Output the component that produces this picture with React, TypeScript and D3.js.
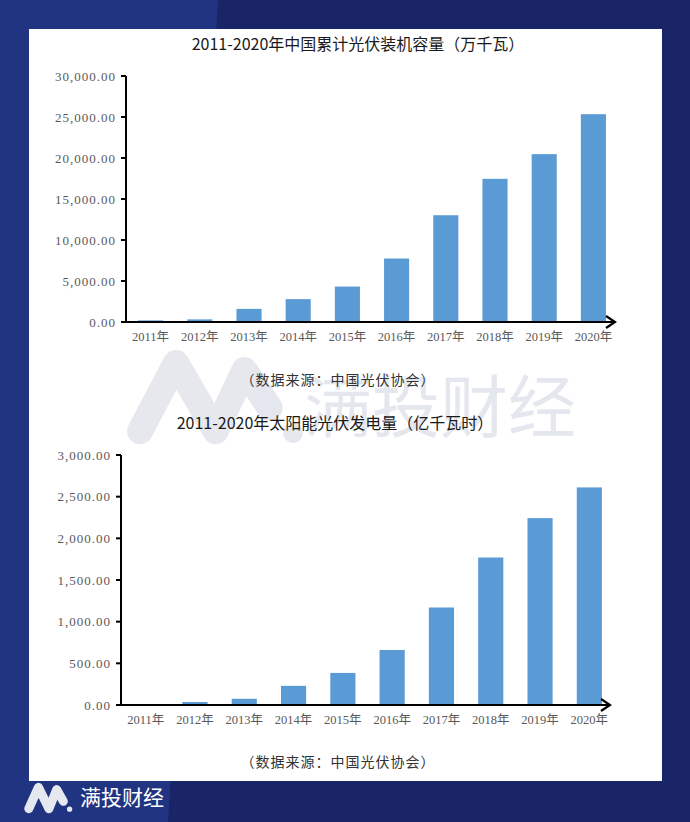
import React from "react";
import * as d3 from "d3";

const years = ["2011年", "2012年", "2013年", "2014年", "2015年", "2016年", "2017年", "2018年", "2019年", "2020年"];
const capacity = [200, 320, 1600, 2790, 4320, 7740, 13020, 17460, 20470, 25340];
const generation = [6, 36, 75, 230, 385, 660, 1170, 1770, 2243, 2611];
const capacityTicks = [0, 5000, 10000, 15000, 20000, 25000, 30000];
const generationTicks = [0, 500, 1000, 1500, 2000, 2500, 3000];
const title1 = "2011-2020年中国累计光伏装机容量（万千瓦）";
const title2 = "2011-2020年太阳能光伏发电量（亿千瓦时）";
const sourceText = "（数据来源：中国光伏协会）";
const brand = "满投财经";

const W = 690;
const H = 822;
const BAR = "#5b9bd5";
const LABEL = "#595959";
const CJK = "'Noto Sans CJK SC', 'Noto Sans', sans-serif";
const NUM = "'Liberation Serif', 'Noto Sans CJK SC', serif";

type ChartProps = {
  values: number[];
  ticks: number[];
  x0: number;
  x1: number;
  yTop: number;
  yBottom: number;
  arrowEnd: number;
  title: string;
  titleX: number;
  titleY: number;
  sourceY: number;
  sourceX: number;
};

function BarChart(p: ChartProps) {
  const x = d3.scaleBand<string>().domain(years).range([p.x0, p.x1]).paddingInner(0.49).paddingOuter(0.245);
  const y = d3.scaleLinear().domain([0, p.ticks[p.ticks.length - 1]]).range([p.yBottom, p.yTop]);
  const fmt = d3.format(",.2f");
  return (
    <g>
      <text x={p.titleX} y={p.titleY} textAnchor="middle" fontFamily={CJK} fontSize={16} fill="#1a1a1a">
        {p.title}
      </text>
      {years.map((yr, i) => (
        <rect key={yr} x={x(yr)} y={y(p.values[i])} width={x.bandwidth()} height={y(0) - y(p.values[i])} fill={BAR} />
      ))}
      <line x1={p.x0} x2={p.x0} y1={y(p.ticks[p.ticks.length - 1])} y2={y(0)} stroke="#000" strokeWidth={2} />
      {p.ticks.map((t) => (
        <g key={t}>
          <line x1={p.x0 - 5} x2={p.x0} y1={y(t)} y2={y(t)} stroke="#000" strokeWidth={2} />
          <text x={p.x0 - 10} y={y(t)} dy="0.35em" textAnchor="end" fontFamily={NUM} fontSize={13} letterSpacing={1} fill={LABEL}>
            {fmt(t)}
          </text>
        </g>
      ))}
      <line x1={p.x0 - 1} x2={p.arrowEnd} y1={y(0)} y2={y(0)} stroke="#000" strokeWidth={2} />
      <path
        d={`M${p.arrowEnd - 9},${y(0) - 6} L${p.arrowEnd},${y(0)} L${p.arrowEnd - 9},${y(0) + 6}`}
        fill="none"
        stroke="#000"
        strokeWidth={2.2}
        strokeLinejoin="miter"
      />
      {years.map((yr) => (
        <text key={yr} x={(x(yr) ?? 0) + x.bandwidth() / 2} y={y(0) + 19} textAnchor="middle" fontFamily={NUM} fontSize={12.5} fill={LABEL}>
          {yr}
        </text>
      ))}
      <text x={p.sourceX} y={p.sourceY} textAnchor="middle" fontFamily={CJK} fontSize={14} fill="#333" letterSpacing={1}>
        {sourceText}
      </text>
    </g>
  );
}

function LogoIcon({ x, y, w, h, color, sw }: { x: number; y: number; w: number; h: number; color: string; sw: number }) {
  const px = (v: number) => x + v * w;
  const py = (v: number) => y + v * h;
  return (
    <g>
      <path
        d={`M${px(0.1)},${py(0.88)} L${px(0.3)},${py(0.12)} L${px(0.52)},${py(0.88)} M${px(0.52)},${py(0.88)} L${px(0.68)},${py(0.2)} L${px(0.82)},${py(0.62)}`}
        fill="none"
        stroke={color}
        strokeWidth={sw}
        strokeLinecap="round"
        strokeLinejoin="round"
      />
      <circle cx={px(0.95)} cy={py(0.9)} r={w * 0.055} fill={color} />
    </g>
  );
}

export default function App() {
  return (
    <svg width={W} height={H} style={{ position: "absolute", left: 0, top: 0 }}>
      <rect x={0} y={0} width={W} height={H} fill="#1a2568" />
      <path d="M0,0 L218,0 L168,822 L0,822 Z" fill="#213481" />
      <rect x={29} y={29} width={633} height={752} fill="#ffffff" />
      {/* watermark */}
      <g opacity={0.6}>
        <LogoIcon x={122} y={352} w={180} h={90} color="#d5d8e3" sw={26} />
        <text x={440} y={432} textAnchor="middle" fontFamily={CJK} fontSize={68} fontWeight={400} fill="#d5d8e3">
          {brand}
        </text>
      </g>
      <BarChart
        values={capacity}
        ticks={capacityTicks}
        x0={126}
        x1={618}
        yTop={76}
        yBottom={322}
        arrowEnd={615}
        title={title1}
        titleX={358}
        titleY={50}
        sourceX={338}
        sourceY={385}
      />
      <BarChart
        values={generation}
        ticks={generationTicks}
        x0={121}
        x1={614}
        yTop={455}
        yBottom={705}
        arrowEnd={610}
        title={title2}
        titleX={335}
        titleY={429}
        sourceX={338}
        sourceY={767}
      />
      <LogoIcon x={24} y={784} w={48} h={28} color="#e6e8f0" sw={9} />
      <text x={80} y={805} fontFamily={CJK} fontSize={21} fill="#ffffff">
        {brand}
      </text>
    </svg>
  );
}
